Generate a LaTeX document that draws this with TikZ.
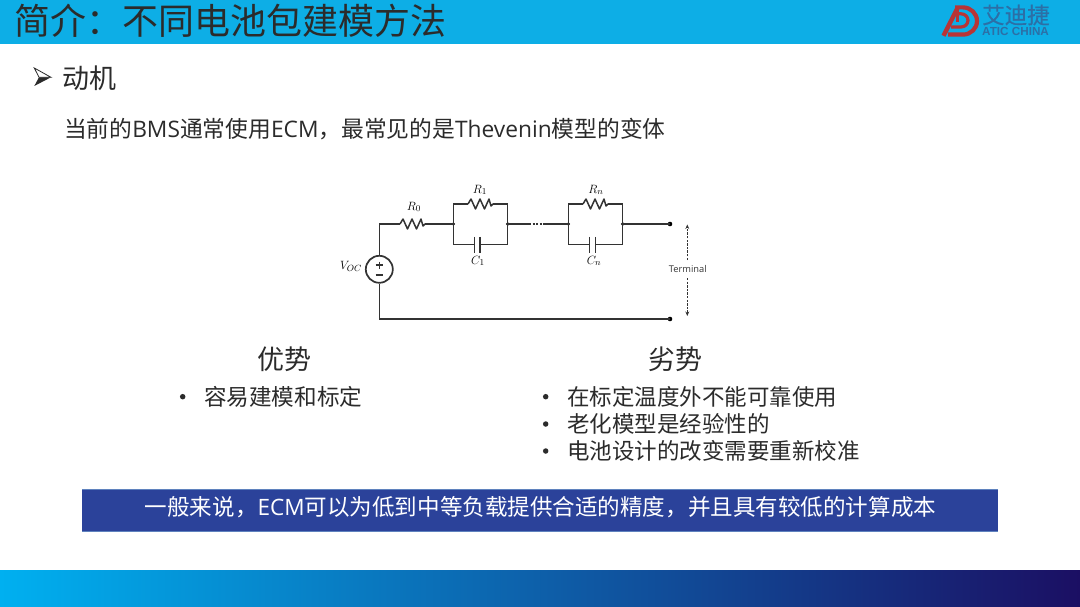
\documentclass[tikz,border=0pt]{standalone}
\usepackage{fontspec}
\setmainfont{Open Sans}
\newfontfamily\cjk{Noto Sans CJK SC}
\newfontfamily\cjkbold[FakeBold=0.5]{Noto Sans CJK SC}
\usetikzlibrary{arrows.meta}
\definecolor{hdr}{HTML}{0DAEE6}
\definecolor{ink}{HTML}{2B2B2B}
\definecolor{wire}{HTML}{333333}
\definecolor{barblue}{HTML}{2B429A}
\definecolor{barrim}{HTML}{5F82BE}
\definecolor{logored}{HTML}{B83436}
\definecolor{logoblue}{HTML}{2C6FA6}
\definecolor{footleft}{HTML}{00B0F0}
\definecolor{footmid}{HTML}{00609F}
\definecolor{footright}{HTML}{1B0F63}
\newcommand{\fs}[1]{\fontsize{#1}{#1}\selectfont}
\tikzset{
  txt/.style={inner sep=0pt,outer sep=0pt,text=ink,font=\cjk},
  wireline/.style={draw=wire,line width=1.6pt},
  thinwire/.style={draw=wire,line width=1.5pt},
  junction/.style={circle,fill=black,inner sep=0pt,minimum size=3.6pt},
  termdot/.style={circle,fill=black,inner sep=0pt,minimum size=4.6pt},
  lab/.style={inner sep=0pt,text=black,font=\fs{13}},
  bulletdot/.style={circle,fill=ink,inner sep=0pt,minimum size=5.5pt},
  resistorpic/.pic={
    \coordinate (-in) at (0,0);
    \coordinate (-out) at (25,0);
    \draw[thinwire,line join=round] (0,0)--(3,-5)--(7.5,5)--(12,-5)--(16.5,5)--(21,-5)--(23,2)--(25,0);
  },
  capacitorpic/.pic={
    \coordinate (-in) at (-2.8,0);
    \coordinate (-out) at (2.8,0);
    \draw[thinwire] (-2.8,-7.8)--(-2.8,7.8);
    \draw[thinwire] (2.8,-7.8)--(2.8,7.8);
  }
}
\begin{document}
\begin{tikzpicture}[x=1pt,y=-1pt]
\useasboundingbox (0,0) rectangle (1080,607);
\fill[white] (0,0) rectangle (1080,607);
% header
\fill[hdr] (0,0) rectangle (1080,44);
\node[txt,anchor=west,font=\cjk\fs{35.95}] (title) at (15,21) {简介：不同电池包建模方法};
% logo
\draw[logored,line width=4.4pt] (943.5,35.8)--(957.5,8);
\draw[logored,line width=3.4pt] (957.5,9)--(957.5,22);
\draw[logored,line width=4.2pt] (955,7.4)--(963,7.4) arc[start angle=-90,end angle=90,x radius=14,y radius=13.6] -- (948,34.6);
\draw[logored,line width=3.2pt] (951,27)--(961,27) arc[start angle=90,end angle=-90,x radius=7,y radius=6.6] -- (957.5,13.8);
\node[inner sep=0pt,text=logoblue,font=\cjkbold\fs{22.5},anchor=west] (logocn) at (982,15) {艾迪捷};
\node[inner sep=0pt,text=logoblue,font=\fontspec{Liberation Sans}\bfseries\fs{11.7},anchor=west] (logoen) at (982,31) {ATIC CHINA};
% heading bullet
\draw[ink,line width=.8pt,line join=miter,fill=white] (34.3,68)--(51,77.3)--(39,77.3)--cycle;
\fill[ink] (34.3,86)--(51,77.3)--(39,77.3)--cycle;
\node[txt,anchor=west,font=\cjk\fs{27}] (h1) at (62,78) {动机};
\node[txt,anchor=west,font=\fs{22.75}] (intro) at (64,129) {{\cjk 当前的}BMS{\cjk 通常使用}ECM{\cjk ，最常见的是}Thevenin{\cjk 模型的变体}};
% circuit points
\node[circle,draw=wire,line width=1.7pt,minimum size=27pt,inner sep=0pt] (vs) at (379.3,269.3) {};
\draw[wire,line width=1.6pt] (375.6,265.2)--(383,265.2) (379.3,261.5)--(379.3,268.9) (375.6,275.2)--(383,275.2);
\coordinate (tl) at (379.3,224);
\coordinate (bl) at (379.3,319);
\pic (r0) at (400,224) {resistorpic};
\node[junction] (j1) at (453.3,224) {};
\node[junction] (j2) at (507.7,224) {};
\coordinate (j1t) at (453.3,204);
\coordinate (j2t) at (507.7,204);
\coordinate (j1b) at (453.3,244.7);
\coordinate (j2b) at (507.7,244.7);
\pic (r1) at (468,204) {resistorpic};
\pic (c1) at (477.2,244.7) {capacitorpic};
\coordinate (dotA) at (529,224);
\coordinate (dotB) at (545,224);
\node[junction] (j3) at (568.3,224) {};
\node[junction] (j4) at (622.7,224) {};
\coordinate (j3t) at (568.3,204);
\coordinate (j4t) at (622.7,204);
\coordinate (j3b) at (568.3,244.7);
\coordinate (j4b) at (622.7,244.7);
\pic (rn) at (583,204) {resistorpic};
\pic (cn) at (592.5,244.7) {capacitorpic};
\node[termdot] (t1) at (670,224) {};
\node[termdot] (t2) at (670,319) {};
% wires
\draw[wireline,line join=miter] (vs.north) -- (tl) -- (r0-in);
\draw[wireline] (r0-out) -- (j1.center);
\draw[wireline] (vs.south) -- (bl) -- (t2.center);
\draw[thinwire] (j1.center) -- (j1t) -- (r1-in) (r1-out) -- (j2t) -- (j2.center);
\draw[thinwire] (j1.center) -- (j1b) -- (c1-in) (c1-out) -- (j2b) -- (j2.center);
\draw[wireline] (j2.center) -- (dotA);
\draw[wire,line width=1.5pt,dash pattern=on 2pt off 1.6pt] (dotA) -- (dotB);
\draw[wireline] (dotB) -- (j3.center);
\draw[thinwire] (j3.center) -- (j3t) -- (rn-in) (rn-out) -- (j4t) -- (j4.center);
\draw[thinwire] (j3.center) -- (j3b) -- (cn-in) (cn-out) -- (j4b) -- (j4.center);
\draw[wireline] (j4.center) -- (t1.center);
% terminal
\node[inner sep=0pt,text=wire,font=\fs{9.3}] (term) at (687.8,269.5) {Terminal};
\coordinate (au) at (687.3,224.5);
\coordinate (ad) at (687.3,316);
\coordinate (as) at (687.3,260);
\coordinate (ae) at (687.3,278);
\draw[wire,line width=.8pt,dash pattern=on 2.4pt off 1.2pt,-{Stealth[length=4.5pt,width=3.8pt]}] (as) -- (au);
\draw[wire,line width=.8pt,dash pattern=on 2.4pt off 1.2pt,-{Stealth[length=4.5pt,width=3.8pt]}] (ae) -- (ad);
% circuit labels
\node[lab] (lvoc) at (351,266) {$V_{OC}$};
\node[lab] (lr0) at (414,207) {$R_0$};
\node[lab] (lr1) at (480,190) {$R_1$};
\node[lab] (lc1) at (478,261) {$C_1$};
\node[lab] (lrn) at (596,190) {$R_n$};
\node[lab] (lcn) at (594,261) {$C_n$};
% columns
\node[txt,font=\cjk\fs{27}] (adv) at (284,359) {优势};
\node[txt,font=\cjk\fs{27}] (dis) at (675,359) {劣势};
\node[bulletdot] (b1) at (182.7,396.7) {};
\node[txt,anchor=west,font=\cjk\fs{22.6}] (a1) at (204,397) {容易建模和标定};
\node[bulletdot] (b2) at (545.7,396.7) {};
\node[txt,anchor=west,font=\cjk\fs{22.5}] (d1) at (567,397) {在标定温度外不能可靠使用};
\node[bulletdot] (b3) at (545.7,424) {};
\node[txt,anchor=west,font=\cjk\fs{22.5}] (d2) at (567,424) {老化模型是经验性的};
\node[bulletdot] (b4) at (545.7,451) {};
\node[txt,anchor=west,font=\cjk\fs{22.5}] (d3) at (567,451) {电池设计的改变需要重新校准};
% bar
\fill[barblue] (82,489) rectangle (998,531);
\draw[barrim,line width=1pt] (82,489)--(998,489) (82,531)--(998,531);
\node[inner sep=0pt,text=white,font=\fs{22.55}] (barText) at (540.5,507) {{\cjk 一般来说，}ECM{\cjk 可以为低到中等负载提供合适的精度，并且具有较低的计算成本}};
% footer
\shade[left color=footleft,middle color=footmid,right color=footright] (0,570) rectangle (1080,607);
\end{tikzpicture}
\end{document}
